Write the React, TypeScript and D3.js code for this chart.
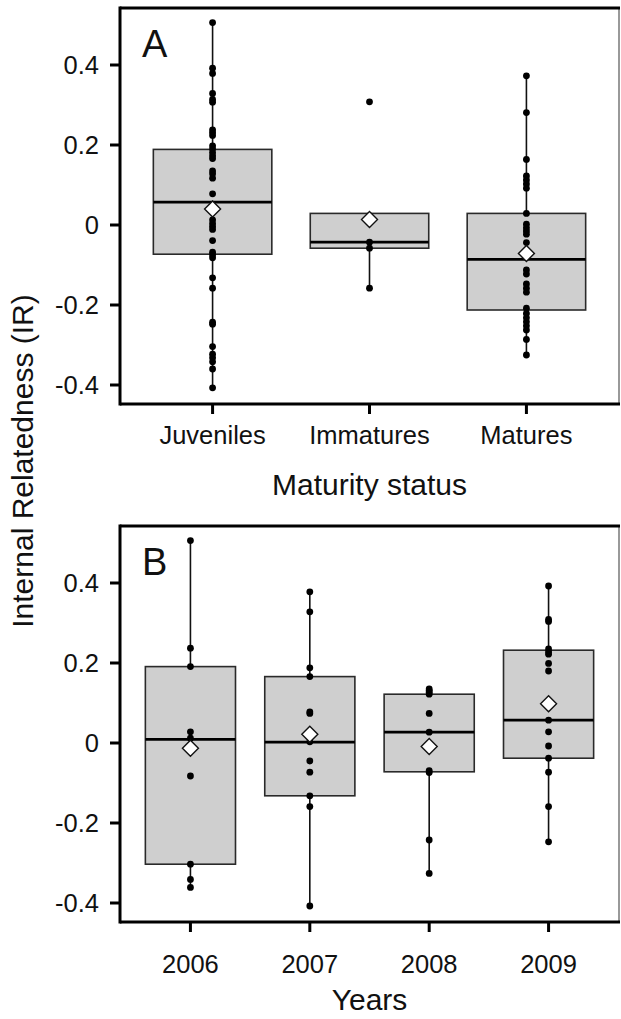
import React from "react";
import * as d3 from "d3";

// ---------- DATA ----------
const maturityCategories = ["Juveniles", "Immatures", "Matures"];
const juvenilesPoints = [0.506, 0.392, 0.379, 0.329, 0.314, 0.307, 0.238, 0.231, 0.224, 0.198, 0.19, 0.181, 0.173, 0.166, 0.135, 0.128, 0.117, 0.078, 0.013, 0.004, -0.004, -0.011, -0.039, -0.068, -0.075, -0.082, -0.132, -0.158, -0.243, -0.248, -0.304, -0.323, -0.332, -0.342, -0.36, -0.407];
const immaturesPoints = [0.308, -0.043, -0.058, -0.158];
const maturesPoints = [0.373, 0.281, 0.164, 0.1225, 0.1125, 0.1025, 0.092, 0.029, 0.002, -0.007, -0.015, -0.023, -0.044, -0.1125, -0.1225, -0.1475, -0.158, -0.168, -0.208, -0.221, -0.232, -0.242, -0.252, -0.2625, -0.286, -0.325];
// box stats per maturity category
const maturityQ1 = [-0.073, -0.058, -0.2125];
const maturityMedian = [0.057, -0.043, -0.086];
const maturityQ3 = [0.189, 0.029, 0.029];
const maturityMean = [0.04, 0.014, -0.071];
const maturityWhiskerLow = [-0.407, -0.158, -0.325];
const maturityWhiskerHigh = [0.506, 0.029, 0.373];

const yearCategories = ["2006", "2007", "2008", "2009"];
const y2006Points = [0.506, 0.237, 0.191, 0.028, 0.012, -0.0825, -0.303, -0.341, -0.361];
const y2007Points = [0.378, 0.328, 0.188, 0.166, 0.078, 0.074, 0.003, -0.045, -0.073, -0.132, -0.159, -0.4075];
const y2008Points = [0.135, 0.131, 0.127, 0.122, 0.074, 0.027, -0.069, -0.074, -0.2425, -0.326];
const y2009Points = [0.3925, 0.309, 0.304, 0.235, 0.228, 0.222, 0.199, 0.18, 0.057, 0.028, -0.0075, -0.038, -0.073, -0.159, -0.247];
const yearQ1 = [-0.303, -0.132, -0.072, -0.038];
const yearMedian = [0.009, 0.002, 0.027, 0.057];
const yearQ3 = [0.191, 0.166, 0.122, 0.232];
const yearMean = [-0.013, 0.022, -0.009, 0.098];
const yearWhiskerLow = [-0.361, -0.4075, -0.326, -0.247];
const yearWhiskerHigh = [0.506, 0.378, 0.135, 0.3925];

const yTicks = [-0.4, -0.2, 0, 0.2, 0.4];
const yTickLabels = ["-0.4", "-0.2", "0", "0.2", "0.4"];
const yDomain = [-0.4475, 0.5425];

// ---------- LAYOUT ----------
const W = 621;
const H = 1019;
const FONT = "'Liberation Sans', Arial, Helvetica, sans-serif";
const left = 120;
const right = 619;

type Group = {
  cat: string;
  points: number[];
  q1: number;
  med: number;
  q3: number;
  mean: number;
  lo: number;
  hi: number;
};

function Panel(props: {
  top: number;
  bottom: number;
  cats: string[];
  groups: Group[];
  letter: string;
  xTitle: string;
  tickLabelBaseline: number;
  titleBaseline: number;
}) {
  const { top, bottom, cats, groups, letter, xTitle, tickLabelBaseline, titleBaseline } = props;
  const y = d3.scaleLinear().domain(yDomain).range([bottom, top]);
  const x = d3.scalePoint<string>().domain(cats).range([left, right]).padding(0.59);
  const step = x.step();
  const bw = step * 0.755;
  const dr = 8;
  return (
    <g>
      {groups.map((g) => {
        const cx = x(g.cat)!;
        return (
          <g key={g.cat}>
            {g.hi > g.q3 && (
              <line x1={cx} x2={cx} y1={y(g.q3)} y2={y(g.hi)} stroke="#111" strokeWidth={1.6} />
            )}
            {g.lo < g.q1 && (
              <line x1={cx} x2={cx} y1={y(g.q1)} y2={y(g.lo)} stroke="#111" strokeWidth={1.6} />
            )}
            <rect
              x={cx - bw / 2}
              y={y(g.q3)}
              width={bw}
              height={y(g.q1) - y(g.q3)}
              fill="#cfcfcf"
              stroke="#2a2a2a"
              strokeWidth={1.6}
            />
            <line x1={cx - bw / 2} x2={cx + bw / 2} y1={y(g.med)} y2={y(g.med)} stroke="#000" strokeWidth={2.8} />
            {g.points.map((p, i) => (
              <circle key={i} cx={cx} cy={y(p)} r={3.4} fill="#000" />
            ))}
            <path
              d={`M${cx},${y(g.mean) - dr} L${cx + dr},${y(g.mean)} L${cx},${y(g.mean) + dr} L${cx - dr},${y(g.mean)} Z`}
              fill="#fff"
              stroke="#111"
              strokeWidth={1.4}
            />
          </g>
        );
      })}
      {/* frame */}
      <line x1={right} x2={right} y1={top} y2={bottom} stroke="#555" strokeWidth={1.2} />
      <line x1={left} x2={right + 1} y1={top} y2={top} stroke="#000" strokeWidth={3} />
      <line x1={left} x2={right + 1} y1={bottom} y2={bottom} stroke="#000" strokeWidth={3} />
      <line x1={left} x2={left} y1={top - 1.5} y2={bottom + 1.5} stroke="#000" strokeWidth={3} />
      {/* y ticks */}
      {yTicks.map((t, i) => (
        <g key={t}>
          <line x1={left - 10} x2={left} y1={y(t)} y2={y(t)} stroke="#000" strokeWidth={3} />
          <text
            x={99}
            y={y(t)}
            dy="0.35em"
            textAnchor="end"
            fontFamily={FONT}
            fontSize={25.5}
            fill="#111"
          >
            {yTickLabels[i]}
          </text>
        </g>
      ))}
      {/* x ticks */}
      {cats.map((c) => (
        <g key={c}>
          <line x1={x(c)!} x2={x(c)!} y1={bottom} y2={bottom + 10} stroke="#000" strokeWidth={3} />
          <text x={x(c)!} y={tickLabelBaseline} textAnchor="middle" fontFamily={FONT} fontSize={25.5} fill="#111">
            {c}
          </text>
        </g>
      ))}
      <text x={(left + right) / 2} y={titleBaseline} textAnchor="middle" fontFamily={FONT} fontSize={30} fill="#111">
        {xTitle}
      </text>
      <text x={142} y={top + 49} fontFamily={FONT} fontSize={38} fill="#111">
        {letter}
      </text>
    </g>
  );
}

export default function App() {
  const pointsA = [juvenilesPoints, immaturesPoints, maturesPoints];
  const groupsA: Group[] = maturityCategories.map((c, i) => ({
    cat: c,
    points: pointsA[i],
    q1: maturityQ1[i],
    med: maturityMedian[i],
    q3: maturityQ3[i],
    mean: maturityMean[i],
    lo: maturityWhiskerLow[i],
    hi: maturityWhiskerHigh[i],
  }));
  const pointsB = [y2006Points, y2007Points, y2008Points, y2009Points];
  const groupsB: Group[] = yearCategories.map((c, i) => ({
    cat: c,
    points: pointsB[i],
    q1: yearQ1[i],
    med: yearMedian[i],
    q3: yearQ3[i],
    mean: yearMean[i],
    lo: yearWhiskerLow[i],
    hi: yearWhiskerHigh[i],
  }));
  return (
    <svg
      width={W}
      height={H}
      style={{ position: "absolute", left: 0, top: 0, background: "#fff" }}
    >
      <rect width={W} height={H} fill="#fff" />
      <Panel
        top={8}
        bottom={404}
        cats={maturityCategories}
        groups={groupsA}
        letter="A"
        xTitle="Maturity status"
        tickLabelBaseline={444}
        titleBaseline={495}
      />
      <Panel
        top={526}
        bottom={922}
        cats={yearCategories}
        groups={groupsB}
        letter="B"
        xTitle="Years"
        tickLabelBaseline={973}
        titleBaseline={1010}
      />
      <text
        transform="translate(33,461) rotate(-90)"
        textAnchor="middle"
        fontFamily={FONT}
        fontSize={30}
        fill="#111"
      >
        Internal Relatedness (IR)
      </text>
    </svg>
  );
}
